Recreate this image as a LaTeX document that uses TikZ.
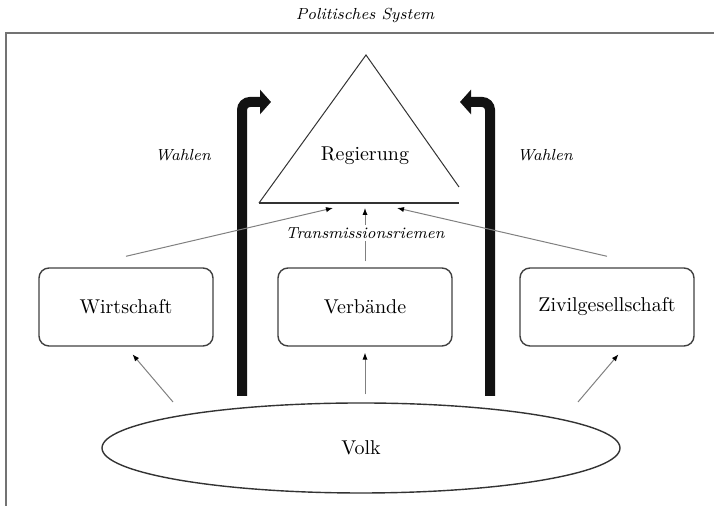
\documentclass[tikz,border=0pt]{standalone}
\usepackage{tikz}
\usetikzlibrary{shapes.geometric,arrows.meta}

\begin{document}
\begin{tikzpicture}
[x=0.5pt,y=-0.5pt,
 kasten/.style={draw=black!75,line width=0.7pt,rounded corners=5pt,minimum width=87pt,minimum height=39pt},
 volkform/.style={ellipse,draw=black!80,line width=0.7pt,minimum width=259pt,minimum height=45pt,inner sep=0pt},
 etikett/.style={font=\footnotesize\itshape},
 zuleitung/.style={draw=black!50,line width=0.5pt,-{Latex[length=3.5pt,width=2.6pt,color=black]}},
 wahlpfeil/.style={draw=black!93,line width=5pt,rounded corners=4pt,-{Triangle[length=5.5pt,width=12pt]}},
 rahmen/.style={draw=black!55,line width=1pt}]

\useasboundingbox (0,0) rectangle (714,506);

\draw[rahmen] (714,33) -- (6,33) -- (6,506);
\node (titel) at (365,16) [etikett] {Politisches System};

\draw[draw=black!80,line width=0.5pt] (259,203) -- (366,55) -- (459,187);
\draw[draw=black!80,line width=0.6pt] (259,203) -- (459,203);
\node (reg) at (365,156) {Regierung};

\coordinate (bl) at (333,208);
\coordinate (bm) at (365,208);
\coordinate (br) at (397,208);

\node (wirt) at (126,307) [kasten] {Wirtschaft};
\node (verb) at (365,307) [kasten] {Verbände};
\node (zivil) at (607,307) [kasten] {Zivilgesellschaft};
\node (volk) at (361,448) [volkform] {Volk};

\node (wahl1) at (183,155) [etikett] {Wahlen};
\node (wahl2) at (545,155) [etikett] {Wahlen};
\node (trans) at (365,233) [etikett,fill=white,inner sep=1pt] {Transmissionsriemen};

\coordinate (wl0) at (242,396);
\coordinate (wl1) at (271,102);
\coordinate (wr0) at (490,396);
\coordinate (wr1) at (460,102);
\draw[wahlpfeil] (wl0) |- (wl1);
\draw[wahlpfeil] (wr0) |- (wr1);

\draw[zuleitung] ([yshift=5.5pt]wirt.north) -- (bl);
\draw[zuleitung] ([yshift=5.5pt]zivil.north) -- (br);
\draw[zuleitung,-] ([yshift=3pt]verb.north) -- (trans);
\draw[zuleitung] (trans) -- (bm);

\coordinate (vl) at (173,402);
\coordinate (vr) at (578,402);
\draw[zuleitung,shorten >=5pt] (vl) -- (wirt.south);
\draw[zuleitung,shorten >=3pt] ([yshift=4pt]verb.south |- volk.north) -- (verb.south);
\draw[zuleitung,shorten >=5pt] (vr) -- ([xshift=9pt]zivil.south);
\end{tikzpicture}
\end{document}
